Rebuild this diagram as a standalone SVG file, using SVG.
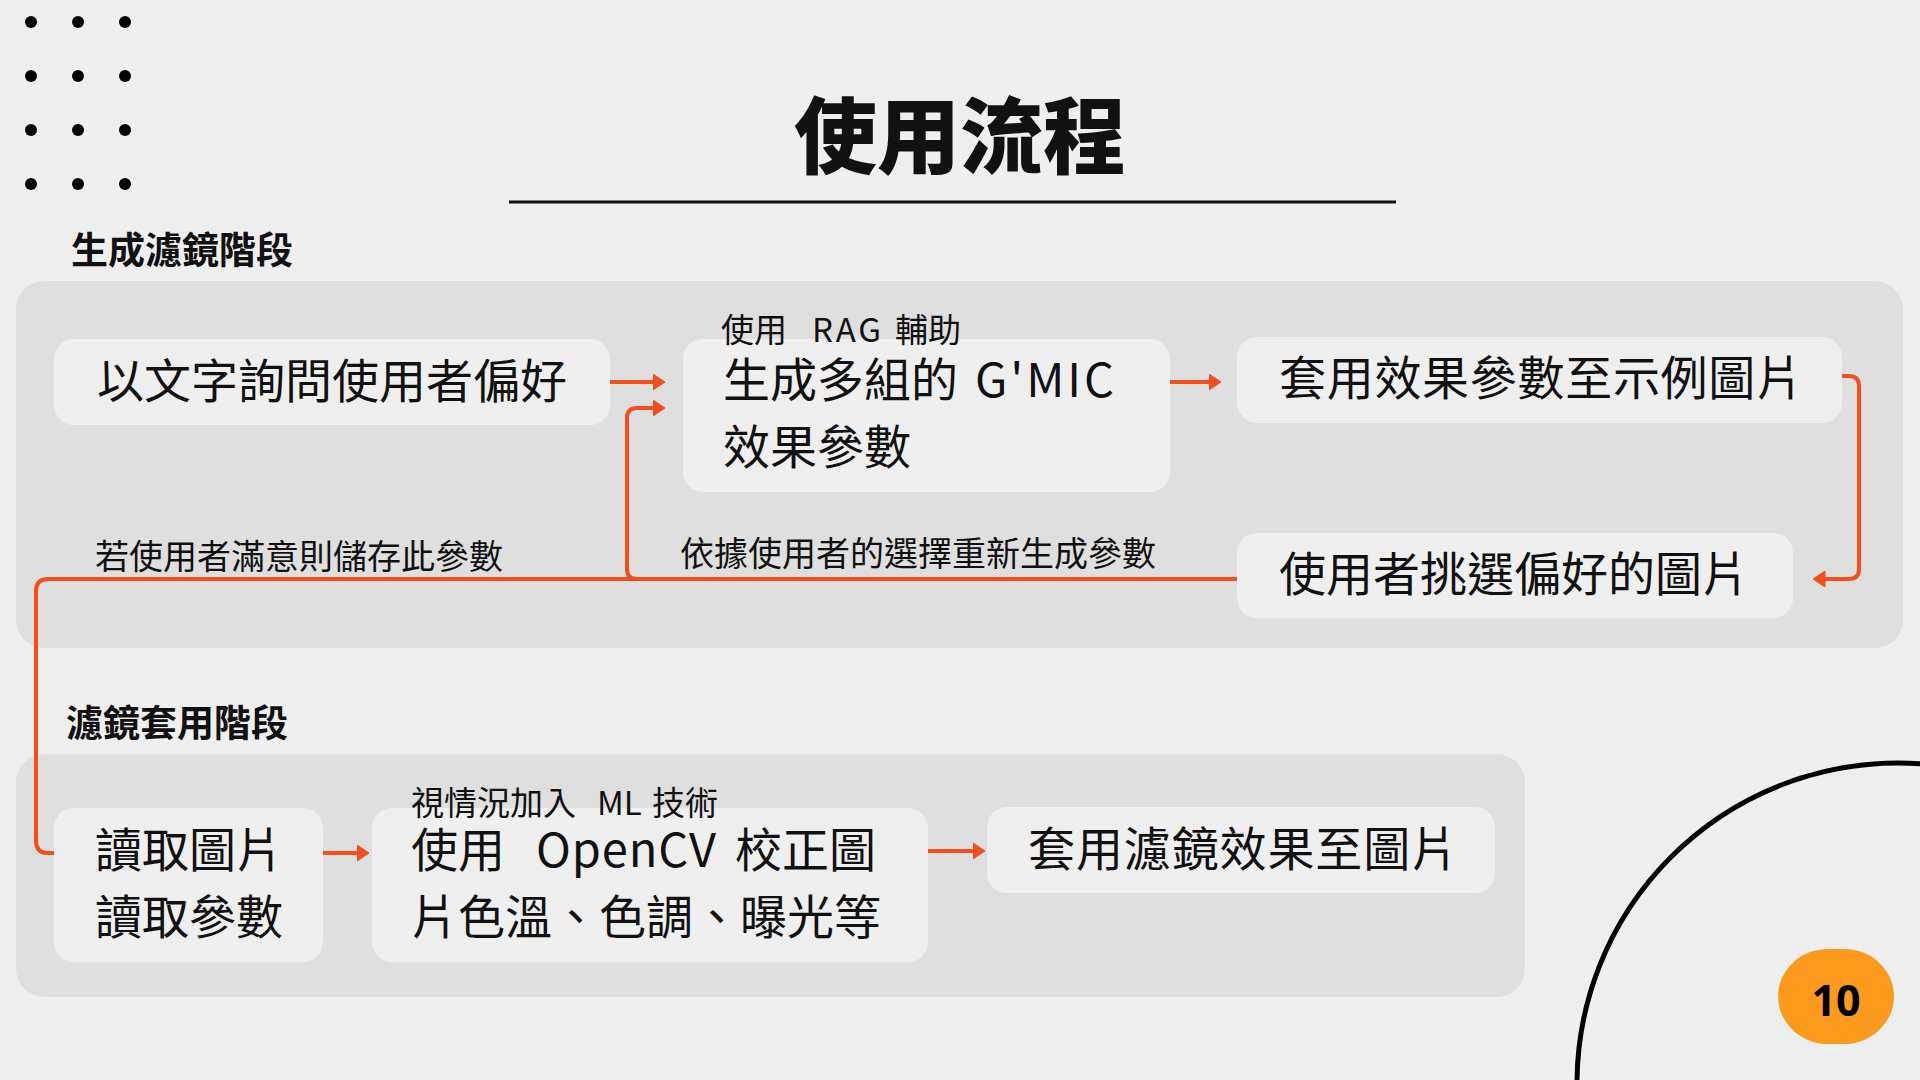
<svg xmlns="http://www.w3.org/2000/svg" width="1920" height="1080" viewBox="0 0 1920 1080">
<defs>
<style>
.bg{fill:#efefef}
.panel{fill:#dfdfdf}
.node{fill:#efefef}
.t{font-family:"Noto Sans CJK TC","Noto Sans CJK SC",sans-serif;fill:#111;font-weight:400}
.nt{font-size:47px}
.lbl{font-size:34px}
.sec{font-size:37px;font-weight:700}
.title{font-size:83px;font-weight:900}
.conn{fill:none;stroke:#f24e1e;stroke-width:4;stroke-linejoin:round}
.dot{fill:#000}
</style>
<marker id="arr" markerUnits="userSpaceOnUse" markerWidth="13" markerHeight="17" viewBox="0 0 13 17" refX="0.5" refY="8.5" orient="auto">
<path d="M0.5,0.5 L12.5,8.5 L0.5,16.5 Z" fill="#f24e1e" stroke="#f24e1e" stroke-width="1" stroke-linejoin="round"/>
</marker>
</defs>
<rect class="bg" x="0" y="0" width="1920" height="1080"/>

<g id="decor-dots">
<circle class="dot" cx="31" cy="22" r="6"/><circle class="dot" cx="78" cy="22" r="6"/><circle class="dot" cx="125" cy="22" r="6"/>
<circle class="dot" cx="31" cy="76" r="6"/><circle class="dot" cx="78" cy="76" r="6"/><circle class="dot" cx="125" cy="76" r="6"/>
<circle class="dot" cx="31" cy="130" r="6"/><circle class="dot" cx="78" cy="130" r="6"/><circle class="dot" cx="125" cy="130" r="6"/>
<circle class="dot" cx="31" cy="184" r="6"/><circle class="dot" cx="78" cy="184" r="6"/><circle class="dot" cx="125" cy="184" r="6"/>
</g>

<g id="title">
<text class="t title" x="960" y="167" text-anchor="middle">使用流程</text>
<line x1="509" y1="202" x2="1396" y2="202" stroke="#111" stroke-width="3"/>
</g>

<g id="decor-arc">
<circle cx="1898" cy="1084" r="321" fill="none" stroke="#000" stroke-width="5"/>
</g>

<g id="stage1">
<text class="t sec" x="71" y="264">生成濾鏡階段</text>
<rect class="panel" x="16" y="281" width="1887" height="367" rx="28"/>
</g>

<g id="stage2">
<text class="t sec" x="66" y="737">濾鏡套用階段</text>
<rect class="panel" x="16" y="754" width="1509" height="243" rx="28"/>
</g>

<g id="connectors">
<path class="conn" d="M610,382 H653" marker-end="url(#arr)"/>
<path class="conn" d="M1170,382 H1209" marker-end="url(#arr)"/>
<path class="conn" d="M1842,376 H1849 Q1859,376 1859,386 V569 Q1859,579 1849,579 H1825" marker-end="url(#arr)"/>
<path class="conn" d="M1237,579 H637 Q627,579 627,569 V418 Q627,408 637,408 H653" marker-end="url(#arr)"/>
<path class="conn" d="M1237,579 H48 Q36,579 36,591 V841 Q36,853 48,853 H56"/>
<path class="conn" d="M323,853 H357" marker-end="url(#arr)"/>
<path class="conn" d="M928,851 H973" marker-end="url(#arr)"/>
<text class="t lbl" x="95" y="569">若使用者滿意則儲存此參數</text>
<text class="t lbl" x="680" y="566">依據使用者的選擇重新生成參數</text>
</g>

<g id="node-ask">
<rect class="node" x="54" y="339" width="556" height="86" rx="20"/>
<text class="t nt" x="97" y="398">以文字詢問使用者偏好</text>
</g>

<g id="node-generate">
<rect class="node" x="683" y="339" width="487" height="153" rx="20"/>
<text class="t lbl" y="342" style="font-size:33px"><tspan x="721">使用</tspan><tspan x="812" textLength="69">RAG</tspan><tspan x="895">輔助</tspan></text>
<text class="t nt" y="397"><tspan x="723">生成多組的</tspan><tspan x="975" textLength="139">G'MIC</tspan></text>
<text class="t nt" x="723" y="464">效果參數</text>
</g>

<g id="node-apply-sample">
<rect class="node" x="1237" y="337" width="605" height="86" rx="20"/>
<text class="t nt" x="1279" y="395" textLength="524" lengthAdjust="spacing">套用效果參數至示例圖片</text>
</g>

<g id="node-pick">
<rect class="node" x="1237" y="533" width="556" height="85" rx="20"/>
<text class="t nt" x="1279" y="591">使用者挑選偏好的圖片</text>
</g>

<g id="node-read">
<rect class="node" x="54" y="808" width="269" height="154" rx="20"/>
<text class="t nt" x="95" y="867">讀取圖片</text>
<text class="t nt" x="95" y="934">讀取參數</text>
</g>

<g id="node-opencv">
<rect class="node" x="372" y="808" width="556" height="154" rx="20"/>
<text class="t lbl" y="815" style="font-size:33px"><tspan x="411">視情況加入</tspan><tspan x="597">ML</tspan><tspan x="652">技術</tspan></text>
<text class="t nt" y="867"><tspan x="411">使用</tspan><tspan x="536" textLength="180">OpenCV</tspan><tspan x="735">校正圖</tspan></text>
<text class="t nt" x="411" y="934">片色溫、色調、曝光等</text>
</g>

<g id="node-apply-filter">
<rect class="node" x="987" y="807" width="508" height="86" rx="20"/>
<text class="t nt" x="1028" y="866" textLength="430" lengthAdjust="spacing">套用濾鏡效果至圖片</text>
</g>

<g id="page-number">
<rect x="1778" y="949" width="116" height="95" rx="50" ry="47.5" fill="#fc9a1e"/>
<text x="1836" y="1016" text-anchor="middle" font-family="'Open Sans','Noto Sans',sans-serif" font-weight="700" font-size="43" fill="#000">10</text>
</g>
</svg>
